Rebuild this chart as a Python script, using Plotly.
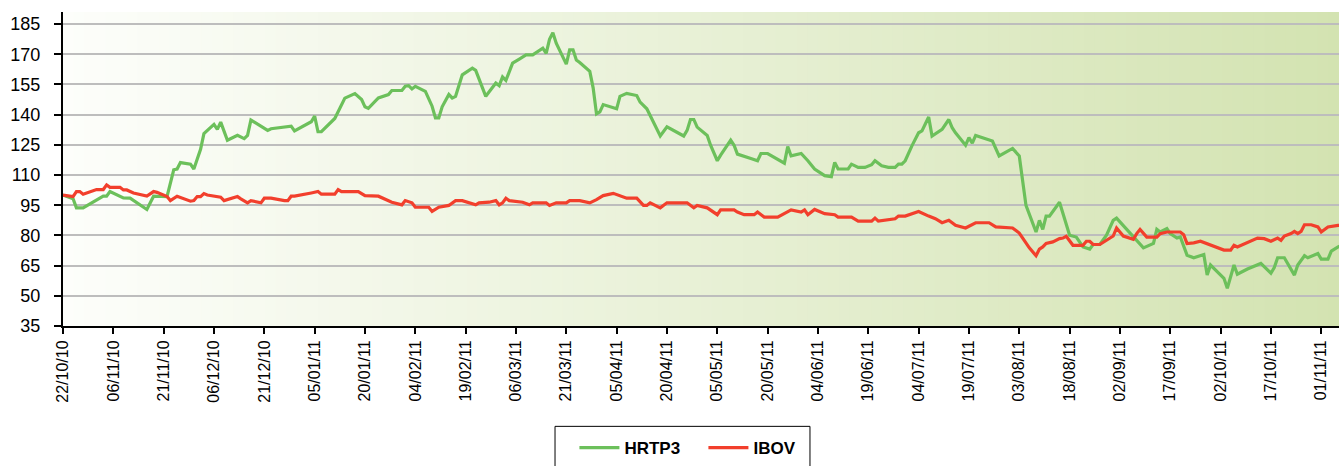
import plotly.graph_objects as go

# ---------------- data ----------------
hrtp3_dates = [
    "2010-10-22", "2010-10-25", "2010-10-26", "2010-10-28", "2010-11-03", "2010-11-04",
    "2010-11-05", "2010-11-09", "2010-11-11", "2010-11-16", "2010-11-18", "2010-11-22",
    "2010-11-24", "2010-11-25", "2010-11-26", "2010-11-29", "2010-11-30", "2010-12-02",
    "2010-12-03", "2010-12-06", "2010-12-07", "2010-12-08", "2010-12-10", "2010-12-13",
    "2010-12-15", "2010-12-16", "2010-12-17", "2010-12-22", "2010-12-23", "2010-12-28",
    "2010-12-29", "2010-12-30", "2011-01-04", "2011-01-05", "2011-01-06", "2011-01-07",
    "2011-01-11", "2011-01-14", "2011-01-17", "2011-01-19", "2011-01-20", "2011-01-21",
    "2011-01-24", "2011-01-27", "2011-01-28", "2011-01-31", "2011-02-01", "2011-02-02",
    "2011-02-03", "2011-02-04", "2011-02-07", "2011-02-09", "2011-02-10", "2011-02-11",
    "2011-02-12", "2011-02-14", "2011-02-15", "2011-02-16", "2011-02-18", "2011-02-21",
    "2011-02-22", "2011-02-25", "2011-02-28", "2011-03-01", "2011-03-02", "2011-03-03",
    "2011-03-05", "2011-03-07", "2011-03-09", "2011-03-11", "2011-03-14", "2011-03-15",
    "2011-03-16", "2011-03-17", "2011-03-18", "2011-03-21", "2011-03-22", "2011-03-23",
    "2011-03-24", "2011-03-25", "2011-03-28", "2011-03-29", "2011-03-30", "2011-03-31",
    "2011-04-01", "2011-04-05", "2011-04-06", "2011-04-08", "2011-04-11", "2011-04-12",
    "2011-04-14", "2011-04-18", "2011-04-20", "2011-04-25", "2011-04-26", "2011-04-27",
    "2011-04-28", "2011-04-29", "2011-05-02", "2011-05-03", "2011-05-05", "2011-05-06",
    "2011-05-09", "2011-05-10", "2011-05-11", "2011-05-15", "2011-05-17", "2011-05-18",
    "2011-05-20", "2011-05-25", "2011-05-26", "2011-05-27", "2011-05-30", "2011-06-01",
    "2011-06-03", "2011-06-06", "2011-06-08", "2011-06-09", "2011-06-10", "2011-06-13",
    "2011-06-14", "2011-06-16", "2011-06-18", "2011-06-20", "2011-06-21", "2011-06-23",
    "2011-06-25", "2011-06-27", "2011-06-28", "2011-06-29", "2011-06-30", "2011-07-02",
    "2011-07-04", "2011-07-05", "2011-07-06", "2011-07-07", "2011-07-08", "2011-07-11",
    "2011-07-13", "2011-07-14", "2011-07-15", "2011-07-18", "2011-07-19", "2011-07-20",
    "2011-07-21", "2011-07-23", "2011-07-26", "2011-07-28", "2011-08-01", "2011-08-03",
    "2011-08-05", "2011-08-08", "2011-08-09", "2011-08-10", "2011-08-11", "2011-08-12",
    "2011-08-15", "2011-08-18", "2011-08-20", "2011-08-22", "2011-08-24", "2011-08-25",
    "2011-08-27", "2011-08-29", "2011-08-31", "2011-09-01", "2011-09-03", "2011-09-06",
    "2011-09-09", "2011-09-12", "2011-09-13", "2011-09-14", "2011-09-16", "2011-09-17",
    "2011-09-19", "2011-09-20", "2011-09-22", "2011-09-24", "2011-09-27", "2011-09-28",
    "2011-09-29", "2011-09-30", "2011-10-03", "2011-10-04", "2011-10-06", "2011-10-07",
    "2011-10-10", "2011-10-14", "2011-10-17", "2011-10-18", "2011-10-19", "2011-10-21",
    "2011-10-24", "2011-10-25", "2011-10-27", "2011-10-28", "2011-10-31", "2011-11-01",
    "2011-11-03", "2011-11-04", "2011-11-06", "2011-11-08",
]
hrtp3_values = [
    100.0, 98.2, 93.7, 93.7, 99.5, 99.5,
    101.8, 98.6, 98.5, 92.9, 99.5, 99.3,
    112.6, 113.0, 116.2, 115.4, 113.0, 122.8,
    130.6, 135.2, 132.7, 136.3, 127.3, 129.7,
    128.1, 129.7, 137.3, 132.2, 133.0, 134.2,
    134.3, 131.9, 136.5, 139.3, 131.5, 131.5,
    138.1, 148.2, 150.5, 147.5, 143.9, 143.1,
    148.3, 150.0, 152.0, 152.0, 154.1, 154.4,
    152.8, 154.1, 151.6, 144.2, 138.4, 138.4,
    143.9, 150.0, 148.3, 149.1, 159.8, 163.1,
    162.0, 149.1, 155.7, 154.4, 158.7, 157.0,
    165.6, 167.6, 169.7, 169.7, 173.0, 170.5,
    177.4, 180.7, 175.5, 165.1, 172.2, 172.2,
    167.2, 165.9, 161.5, 153.3, 140.4, 141.4,
    145.0, 142.9, 149.1, 150.6, 149.5, 146.2,
    142.9, 129.4, 134.0, 129.4, 132.2, 137.6,
    137.6, 133.8, 129.7, 124.8, 117.1, 119.9,
    127.3, 124.8, 120.4, 118.2, 117.1, 120.7,
    120.7, 115.9, 124.1, 119.5, 120.7, 117.1,
    113.0, 109.7, 109.2, 116.3, 113.0, 113.0,
    115.4, 113.8, 113.8, 115.1, 117.1, 114.6,
    113.8, 113.8, 115.4, 115.4, 117.1, 124.5,
    131.0, 131.9, 135.2, 138.8, 129.4, 132.7,
    137.6, 133.5, 131.0, 124.8, 128.6, 125.8,
    129.7, 128.6, 126.9, 119.5, 123.2, 119.5,
    94.9, 81.7, 87.5, 83.0, 89.6, 89.6,
    96.5, 80.1, 79.2, 74.3, 73.2, 75.5,
    75.5, 80.1, 87.5, 88.6, 85.0, 79.2,
    73.8, 76.0, 83.0, 81.7, 83.4, 80.9,
    78.7, 79.2, 70.2, 68.9, 70.5, 60.3,
    65.3, 63.6, 58.7, 53.7, 65.3, 60.7,
    63.3, 66.1, 61.2, 64.0, 68.9, 68.9,
    60.3, 65.3, 69.9, 68.9, 71.0, 68.2,
    68.2, 72.2, 74.3, 75.5,
]

ibov_dates = [
    "2010-10-22", "2010-10-25", "2010-10-26", "2010-10-27", "2010-10-28", "2010-10-30",
    "2010-11-01", "2010-11-03", "2010-11-04", "2010-11-05", "2010-11-08", "2010-11-09",
    "2010-11-10", "2010-11-12", "2010-11-14", "2010-11-16", "2010-11-18", "2010-11-19",
    "2010-11-22", "2010-11-23", "2010-11-25", "2010-11-27", "2010-11-29", "2010-11-30",
    "2010-12-01", "2010-12-02", "2010-12-03", "2010-12-04", "2010-12-08", "2010-12-09",
    "2010-12-11", "2010-12-13", "2010-12-14", "2010-12-16", "2010-12-17", "2010-12-20",
    "2010-12-21", "2010-12-23", "2010-12-27", "2010-12-28", "2010-12-29", "2010-12-30",
    "2011-01-04", "2011-01-06", "2011-01-07", "2011-01-11", "2011-01-12", "2011-01-13",
    "2011-01-18", "2011-01-20", "2011-01-24", "2011-01-26", "2011-01-28", "2011-01-31",
    "2011-02-01", "2011-02-03", "2011-02-04", "2011-02-08", "2011-02-09", "2011-02-11",
    "2011-02-14", "2011-02-16", "2011-02-18", "2011-02-22", "2011-02-23", "2011-02-26",
    "2011-02-28", "2011-03-01", "2011-03-02", "2011-03-03", "2011-03-04", "2011-03-08",
    "2011-03-10", "2011-03-11", "2011-03-15", "2011-03-16", "2011-03-18", "2011-03-21",
    "2011-03-22", "2011-03-25", "2011-03-28", "2011-03-30", "2011-04-01", "2011-04-04",
    "2011-04-06", "2011-04-08", "2011-04-11", "2011-04-13", "2011-04-14", "2011-04-15",
    "2011-04-18", "2011-04-20", "2011-04-26", "2011-04-28", "2011-04-29", "2011-05-02",
    "2011-05-05", "2011-05-06", "2011-05-10", "2011-05-11", "2011-05-13", "2011-05-16",
    "2011-05-17", "2011-05-19", "2011-05-23", "2011-05-25", "2011-05-27", "2011-05-30",
    "2011-05-31", "2011-06-01", "2011-06-03", "2011-06-06", "2011-06-09", "2011-06-10",
    "2011-06-14", "2011-06-16", "2011-06-20", "2011-06-21", "2011-06-22", "2011-06-27",
    "2011-06-28", "2011-06-30", "2011-07-02", "2011-07-04", "2011-07-07", "2011-07-09",
    "2011-07-11", "2011-07-13", "2011-07-15", "2011-07-18", "2011-07-21", "2011-07-25",
    "2011-07-27", "2011-08-01", "2011-08-03", "2011-08-05", "2011-08-06", "2011-08-08",
    "2011-08-09", "2011-08-10", "2011-08-11", "2011-08-13", "2011-08-15", "2011-08-16",
    "2011-08-17", "2011-08-19", "2011-08-22", "2011-08-23", "2011-08-24", "2011-08-25",
    "2011-08-27", "2011-08-31", "2011-09-01", "2011-09-03", "2011-09-06", "2011-09-07",
    "2011-09-08", "2011-09-10", "2011-09-13", "2011-09-14", "2011-09-16", "2011-09-20",
    "2011-09-21", "2011-09-22", "2011-09-24", "2011-09-26", "2011-09-29", "2011-10-03",
    "2011-10-05", "2011-10-06", "2011-10-07", "2011-10-10", "2011-10-13", "2011-10-15",
    "2011-10-17", "2011-10-19", "2011-10-20", "2011-10-21", "2011-10-23", "2011-10-24",
    "2011-10-25", "2011-10-26", "2011-10-27", "2011-10-29", "2011-10-31", "2011-11-01",
    "2011-11-03", "2011-11-06", "2011-11-08",
]
ibov_values = [
    100.0, 99.3, 101.8, 101.8, 100.5, 101.8,
    102.8, 102.8, 105.1, 103.9, 103.9, 102.6,
    102.6, 101.1, 100.3, 99.6, 101.8, 101.4,
    99.3, 97.3, 99.5, 98.2, 97.0, 97.3,
    99.3, 99.3, 100.8, 100.1, 99.0, 97.3,
    98.5, 99.3, 98.2, 96.2, 97.3, 96.2,
    98.5, 98.5, 97.3, 97.3, 99.5, 99.5,
    101.1, 101.8, 100.5, 100.5, 102.8, 101.8,
    101.8, 99.8, 99.5, 98.2, 96.5, 95.2,
    97.3, 96.2, 94.0, 94.0, 91.9, 94.0,
    94.9, 97.3, 97.3, 95.2, 96.2, 96.5,
    97.3, 95.2, 96.2, 98.5, 97.3, 96.5,
    95.2, 96.2, 96.2, 94.9, 96.2, 96.2,
    97.3, 97.3, 96.2, 97.8, 99.8, 100.9,
    99.8, 98.5, 98.5, 94.9, 94.9, 96.2,
    93.7, 96.2, 96.2, 93.7, 94.9, 93.7,
    90.3, 92.7, 92.7, 91.6, 90.3, 90.3,
    91.6, 89.1, 89.1, 90.8, 92.7, 91.6,
    92.7, 90.3, 92.9, 90.8, 90.3, 89.1,
    89.1, 87.1, 87.1, 88.6, 87.1, 88.3,
    89.6, 89.6, 90.8, 91.9, 89.6, 88.3,
    86.3, 87.5, 85.0, 83.7, 86.3, 86.3,
    84.2, 83.7, 81.2, 76.4, 73.8, 69.9,
    73.2, 74.3, 76.0, 76.8, 78.4, 78.7,
    79.6, 75.1, 75.1, 77.1, 77.1, 75.5,
    75.5, 79.7, 83.7, 79.7, 78.1, 80.9,
    83.0, 79.2, 79.2, 80.9, 81.7, 81.7,
    80.4, 76.0, 76.3, 77.1, 75.1, 72.7,
    72.7, 75.1, 74.3, 76.4, 78.7, 78.4,
    77.1, 78.7, 77.6, 79.7, 80.9, 82.0,
    80.9, 82.0, 85.3, 85.3, 84.2, 81.7,
    84.2, 85.0, 85.3,
]

series_names = ["HRTP3", "IBOV"]
y_ticks = [35, 50, 65, 80, 95, 110, 125, 140, 155, 170, 185]

# ---------------- styling ----------------
GREEN = "#6cc05b"
RED = "#f23f2c"
FONT = "Liberation Sans, Arial, Helvetica, sans-serif"

fig = go.Figure()
fig.add_trace(go.Scatter(x=hrtp3_dates, y=hrtp3_values, mode="lines",
                         name="<b>" + series_names[0] + "</b>",
                         line=dict(color=GREEN, width=3.2)))
fig.add_trace(go.Scatter(x=ibov_dates, y=ibov_values, mode="lines",
                         name="<b>" + series_names[1] + "</b>",
                         line=dict(color=RED, width=3.2)))

# gradient background of the plot area (white -> light green)
n = 120
c0 = (253, 254, 251)
c1 = (211, 227, 177)
shapes = []
for i in range(n):
    t = (i + 0.5) / n
    r = round(c0[0] + (c1[0] - c0[0]) * t)
    g = round(c0[1] + (c1[1] - c0[1]) * t)
    b = round(c0[2] + (c1[2] - c0[2]) * t)
    shapes.append(dict(type="rect", xref="paper", yref="paper",
                       x0=i / n, x1=(i + 1.6) / n, y0=0, y1=1,
                       fillcolor=f"rgb({r},{g},{b})", line=dict(width=0),
                       layer="below"))

# legend frame (taller box, as in the reference)
shapes.append(dict(type="rect", xref="paper", yref="paper",
                   x0=0.3856, x1=0.5854, y0=-0.3196, y1=-0.50,
                   line=dict(color="black", width=1), fillcolor="rgba(0,0,0,0)",
                   layer="above"))

fig.update_layout(
    width=1339, height=466,
    margin=dict(l=63, r=0, t=12, b=138),
    paper_bgcolor="white",
    plot_bgcolor="white",
    shapes=shapes,
    font=dict(family=FONT, color="black"),
    showlegend=True,
    legend=dict(orientation="h", x=0.4008, xanchor="left", y=-0.332, yanchor="top",
                borderwidth=0, bgcolor="rgba(0,0,0,0)",
                font=dict(size=17, family=FONT, color="black"),
                itemwidth=40, entrywidth=74, tracegroupgap=0),
    hovermode=False,
)

fig.update_xaxes(
    type="date",
    range=["2010-10-22", "2011-11-06 07:00"],
    tick0="2010-10-22", dtick=15 * 86400000,
    tickformat="%d/%m/%y", tickangle=-90,
    ticks="outside", ticklen=6, tickwidth=1.5, tickcolor="black",
    showline=True, linecolor="black", linewidth=2,
    showgrid=False, zeroline=False, automargin=False,
    tickfont=dict(size=16, family=FONT, color="black"),
)
fig.update_yaxes(
    range=[35, 191],
    tickvals=y_ticks,
    ticks="outside", ticklen=7, tickwidth=1.5, tickcolor="black",
    ticklabelstandoff=10,
    showline=True, linecolor="black", linewidth=2,
    showgrid=True, gridcolor="#bdbdbd", gridwidth=2,
    zeroline=False, automargin=False,
    tickfont=dict(size=18, family=FONT, color="black"),
)

fig.write_html(
    "out.html",
    config={"displayModeBar": False},
    post_script="document.body.style.margin='0px';document.body.style.overflow='hidden';",
)
